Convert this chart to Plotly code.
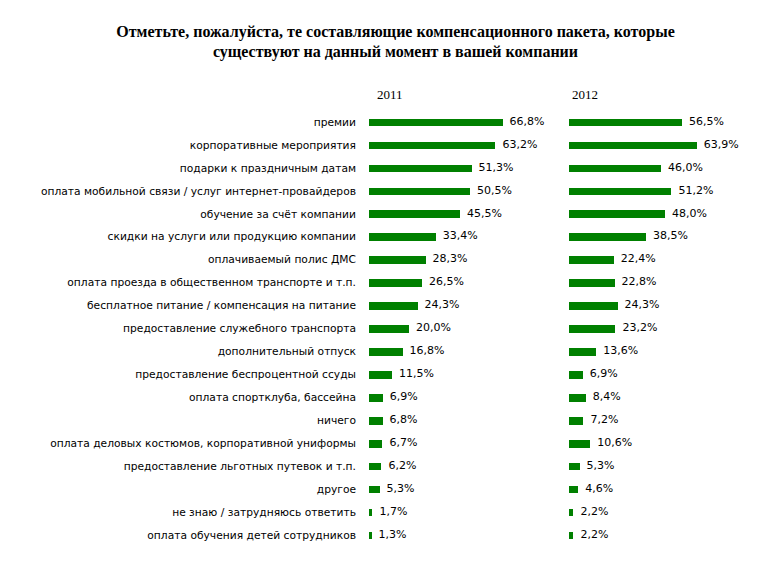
import plotly.graph_objects as go

categories = [
    "премии",
    "корпоративные мероприятия",
    "подарки к праздничным датам",
    "оплата мобильной связи / услуг интернет-провайдеров",
    "обучение за счёт компании",
    "скидки на услуги или продукцию компании",
    "оплачиваемый полис ДМС",
    "оплата проезда в общественном транспорте и т.п.",
    "бесплатное питание / компенсация на питание",
    "предоставление служебного транспорта",
    "дополнительный отпуск",
    "предоставление беспроцентной ссуды",
    "оплата спортклуба, бассейна",
    "ничего",
    "оплата деловых костюмов, корпоративной униформы",
    "предоставление льготных путевок и т.п.",
    "другое",
    "не знаю / затрудняюсь ответить",
    "оплата обучения детей сотрудников",
]
values_2011 = [66.8, 63.2, 51.3, 50.5, 45.5, 33.4, 28.3, 26.5, 24.3, 20.0, 16.8, 11.5, 6.9, 6.8, 6.7, 6.2, 5.3, 1.7, 1.3]
values_2012 = [56.5, 63.9, 46.0, 51.2, 48.0, 38.5, 22.4, 22.8, 24.3, 23.2, 13.6, 6.9, 8.4, 7.2, 10.6, 5.3, 4.6, 2.2, 2.2]
years = ["2011", "2012"]

W, H = 775, 563
green = "#008000"
idx = list(range(len(categories)))

def fmt(v):
    return "  " + f"{v:.1f}".replace(".", ",") + "%"

fig = go.Figure()
for k, vals in enumerate([values_2011, values_2012]):
    xa = "x" if k == 0 else "x2"
    fig.add_trace(go.Bar(x=vals, y=idx, orientation="h", width=0.33,
                         marker=dict(color=green, line=dict(width=0)),
                         xaxis=xa, yaxis="y", showlegend=False, hoverinfo="skip"))
    fig.add_trace(go.Scatter(x=vals, y=idx, mode="text", text=[fmt(v) for v in vals],
                             textposition="middle right",
                             textfont=dict(family="DejaVu Sans", size=11, color="#000"),
                             xaxis=xa, yaxis="y", showlegend=False, hoverinfo="skip",
                             cliponaxis=False))

y_top = 102.5
y_bot = 538.5
fig.update_layout(
    width=W, height=H,
    margin=dict(l=0, r=0, t=0, b=0),
    paper_bgcolor="white", plot_bgcolor="white",
    bargap=0,
    xaxis=dict(domain=[361 / W, 552 / W], range=[0, 95.5], visible=False, fixedrange=True),
    xaxis2=dict(domain=[561 / W, 752 / W], range=[0, 95.5], visible=False, fixedrange=True),
    yaxis=dict(domain=[(H - y_bot) / H, (H - y_top) / H], range=[len(categories) - 0.5, -0.5],
               tickmode="array", tickvals=idx, ticktext=categories,
               tickfont=dict(family="DejaVu Sans", size=10.7, color="#000"),
               showgrid=False, zeroline=False, showline=False, ticks="",
               ticklabelstandoff=12, automargin=False, anchor="x"),
    title=dict(text="Отметьте, пожалуйста, те составляющие компенсационного пакета, которые<br>существуют на данный момент в вашей компании",
               x=0.5, xanchor="center", y=1 - 28.5 / H, yanchor="middle",
               font=dict(family="Liberation Serif", size=16, color="#000", weight="bold")),
)
for xpx, yr in zip([382, 577], years):
    fig.add_annotation(x=xpx / W, y=1 - 86 / H, xref="paper", yref="paper", text=yr,
                       showarrow=False, xanchor="center", yanchor="middle",
                       font=dict(family="Liberation Serif", size=13, color="#000"))

fig.write_html("out.html")
